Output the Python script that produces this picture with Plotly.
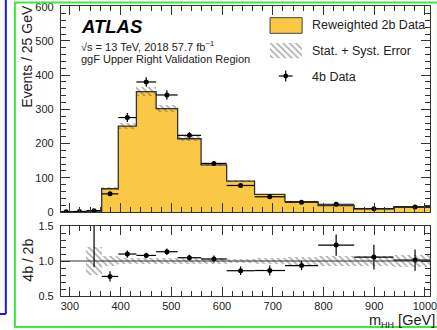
import plotly.graph_objects as go

# ---- binning (GeV, log-spaced) and per-bin contents ----
bin_edges = [280.0, 305.3, 332.8, 362.8, 395.5, 431.2, 470.1, 512.5,
             558.7, 609.1, 664.1, 724.0, 789.3, 860.5, 938.1, 1022.7]
reweighted_2b = [0.2, 0.4, 2.3, 68, 251, 352, 302, 214, 138, 90, 51.5, 30.5, 18.5, 9.0, 14.5]
bkg_err = [0.0, 0.0, 0.46, 4.8, 9.0, 12.7, 10.9, 7.7, 5.0, 3.2, 1.9, 1.8, 1.3, 0.7, 1.3]
data_4b = [0.5, 1.5, 4.0, 53, 276, 380, 342, 224, 142, 77.5, 44.5, 28.5, 22.7, 9.5, 14.7]
data_err = [0.5, 1.0, 1.9, 5.0, 13.0, 14.0, 14.0, 9.0, 7.0, 5.4, 3.6, 2.0, 2.8, 1.6, 2.2]

x_ticks = [300, 400, 500, 600, 700, 800, 900, 1000]
ratio_ticks = [0.5, 1.0, 1.5]
ratio_ticktext = ["0.5", "1.0", "1.5"]

YELLOW = "#fbc845"
INK = "#222222"
FONT = "Liberation Sans, Arial, Helvetica, sans-serif"

# ---- derived per-bin quantities ----
centers = [(a + b) / 2 for a, b in zip(bin_edges[:-1], bin_edges[1:])]
widths = [b - a for a, b in zip(bin_edges[:-1], bin_edges[1:])]
half_w = [w / 2 for w in widths]
shown = [m > 1.0 for m in reweighted_2b]
ratio = [d / m if s else None for d, m, s in zip(data_4b, reweighted_2b, shown)]
ratio_err = [e / m if s else None for e, m, s in zip(data_err, reweighted_2b, shown)]
rel_band = [e / m if s else None for e, m, s in zip(bkg_err, reweighted_2b, shown)]

# ---- page geometry ----
W, H = 437, 330
L, R, T, B = 61, 0, 6, 34
PW, PH = W - L - R, H - T - B


def fx(px):
    return (px - L) / PW


def fy(py):
    return (H - B - py) / PH


x_range = [282.6, 282.6 + PW / 0.517]

hatch = dict(shape="\\", fgcolor="#555555", bgcolor="rgba(0,0,0,0)", size=4.5, solidity=0.35)

fig = go.Figure()

# reweighted 2b histogram
fig.add_trace(go.Bar(x=centers, y=reweighted_2b, width=widths, marker=dict(color=YELLOW, line=dict(width=0)),
                     xaxis="x", yaxis="y"))
# stat + syst band
fig.add_trace(go.Bar(x=centers, y=[2 * e for e in bkg_err], base=[m - e for m, e in zip(reweighted_2b, bkg_err)],
                     width=widths, marker=dict(color="rgba(0,0,0,0)", line=dict(width=0), pattern=hatch),
                     xaxis="x", yaxis="y"))
# histogram outline
fig.add_trace(go.Scatter(x=bin_edges, y=reweighted_2b + [reweighted_2b[-1]], mode="lines",
                         line=dict(shape="hv", color="#333333", width=1.3), xaxis="x", yaxis="y"))
# 4b data
fig.add_trace(go.Scatter(x=centers, y=data_4b, mode="markers", marker=dict(size=5, color="black"),
                         error_x=dict(type="data", array=half_w, width=0, thickness=1.2, color="black"),
                         error_y=dict(type="data", array=data_err, width=0, thickness=1.2, color="black"),
                         xaxis="x", yaxis="y"))

# ratio panel: band and points
fig.add_trace(go.Bar(x=centers, y=[2 * r if r is not None else None for r in rel_band],
                     base=[1 - r if r is not None else None for r in rel_band], width=widths,
                     marker=dict(color="rgba(0,0,0,0)", line=dict(width=0), pattern=hatch),
                     xaxis="x2", yaxis="y2"))
fig.add_trace(go.Scatter(x=centers, y=ratio, mode="markers", marker=dict(size=5, color="black"),
                         error_x=dict(type="data", array=half_w, width=0, thickness=1.2, color="black"),
                         error_y=dict(type="data", array=ratio_err, width=0, thickness=1.2, color="black"),
                         xaxis="x2", yaxis="y2"))

# legend swatch for the error band
fig.add_trace(go.Bar(x=[0.5], y=[1], width=[1], marker=dict(color="rgba(0,0,0,0)", line=dict(width=0), pattern=hatch),
                     xaxis="x3", yaxis="y3"))

axis_common = dict(showline=True, linecolor="#333333", linewidth=1.2, mirror="ticks", ticks="inside",
                   ticklen=9, tickwidth=1.1, tickcolor="#333333", showgrid=False, zeroline=False,
                   tickfont=dict(family=FONT, size=11, color=INK))
minor_x = dict(ticks="inside", ticklen=4.5, dtick=20, tick0=0, tickwidth=1, tickcolor="#333333", showgrid=False)

fig.update_layout(
    width=W, height=H, margin=dict(l=L, r=R, t=T, b=B),
    paper_bgcolor="white", plot_bgcolor="white", showlegend=False,
    barmode="overlay", bargap=0,
    xaxis=dict(domain=[0, 1], anchor="y", range=x_range, tickvals=x_ticks, showticklabels=False,
               minor=minor_x, **axis_common),
    yaxis=dict(domain=[fy(212), 1], anchor="x", range=[0, 602], dtick=100, tick0=0,
               ticklabelstandoff=4,
               minor=dict(ticks="inside", ticklen=4.5, dtick=20, tick0=0, tickwidth=1, tickcolor="#333333"),
               **axis_common),
    xaxis2=dict(domain=[0, 1], anchor="y2", matches="x", range=x_range, tickvals=x_ticks,
                ticklabeloverflow="allow", minor=minor_x, **axis_common),
    yaxis2=dict(domain=[0, fy(226)], anchor="x2", range=[0.5, 1.5], tickvals=ratio_ticks,
                ticktext=ratio_ticktext, ticklabelstandoff=4,
                minor=dict(ticks="inside", ticklen=4.5, dtick=0.1, tick0=0, tickwidth=1, tickcolor="#333333"),
                **axis_common),
    xaxis3=dict(domain=[fx(274), fx(306.7)], anchor="y3", range=[0, 1], visible=False),
    yaxis3=dict(domain=[fy(58.3), fy(42.7)], anchor="x3", range=[0, 1], visible=False),
)

shapes = [
    # unity line in the ratio panel
    dict(type="line", xref="paper", yref="y2", x0=0, x1=1, y0=1, y1=1, line=dict(color="#333333", width=1.2)),
    # legend: reweighted 2b swatch
    dict(type="rect", xref="paper", yref="paper", x0=fx(274), x1=fx(306.7), y0=fy(33.3), y1=fy(17.7),
         fillcolor=YELLOW, line=dict(color="#444444", width=1)),
    # legend: data cross
    dict(type="line", xref="paper", yref="paper", x0=fx(283), x1=fx(297), y0=fy(76), y1=fy(76),
         line=dict(color="black", width=1.2)),
    dict(type="line", xref="paper", yref="paper", x0=fx(290), x1=fx(290), y0=fy(70.5), y1=fy(81.5),
         line=dict(color="black", width=1.2)),
    dict(type="circle", xref="paper", yref="paper", x0=fx(287.6), x1=fx(292.4), y0=fy(78.4), y1=fy(73.6),
         fillcolor="black", line=dict(width=0)),
    # outer frames
    dict(type="rect", xref="paper", yref="paper", x0=fx(14), x1=fx(445), y0=fy(327), y1=fy(2.5),
         line=dict(color="#3ee83e", width=2), fillcolor="rgba(0,0,0,0)", layer="above"),
    dict(type="line", xref="paper", yref="paper", x0=fx(4.8), x1=fx(4.8), y0=fy(-5), y1=fy(314),
         line=dict(color="#1a1ae6", width=2)),
    dict(type="line", xref="paper", yref="paper", x0=fx(-5), x1=fx(4.8), y0=fy(314), y1=fy(314),
         line=dict(color="#1a1ae6", width=2)),
]
fig.update_layout(shapes=shapes)


def label(text, x, y, size, xanchor="left", yanchor="middle", angle=0, color=INK):
    return dict(text=text, xref="paper", yref="paper", x=fx(x), y=fy(y), xanchor=xanchor, yanchor=yanchor,
                showarrow=False, textangle=angle, font=dict(family=FONT, size=size, color=color))


annotations = [
    label("<b><i>ATLAS</i></b>", 79, 26.5, 18.5, color="black"),
    label("√s = 13 TeV, 2018 57.7 fb<sup>−1</sup>", 79, 46, 11),
    label("ggF Upper Right Validation Region", 79, 59.5, 11),
    label("Reweighted 2b Data", 314.5, 25.5, 12.5),
    label("Stat. + Syst. Error", 314.5, 51, 12.5),
    label("4b Data", 314.5, 77, 12.5),
    label("Events / 25 GeV", 26, 56, 14, xanchor="center", angle=-90),
    label("4b / 2b", 27, 260, 14, xanchor="center", angle=-90),
    label("m<sub><span style='font-size:9px'>HH</span></sub> [GeV]", 373, 320.5, 14.5),
]
fig.update_layout(annotations=annotations)

fig.write_html("out.html")
